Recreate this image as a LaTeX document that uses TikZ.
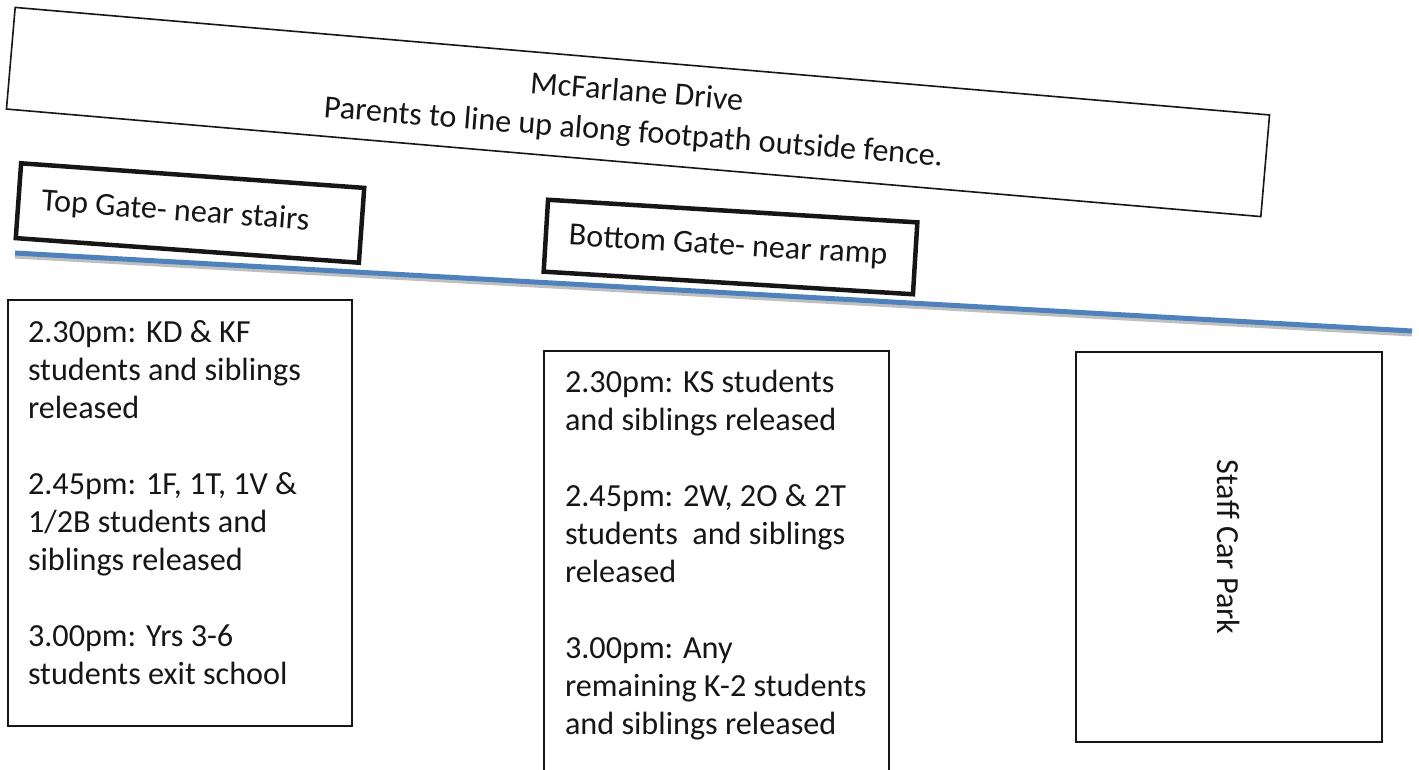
\documentclass[tikz,border=0pt]{standalone}
\usepackage{fontspec}
\setmainfont{Carlito}
\definecolor{fenceblue}{RGB}{79,129,189}
\definecolor{ink}{RGB}{22,22,22}
\begin{document}
\begin{tikzpicture}[x=1pt,y=-1pt,
  bigfont/.style={font=\fontsize{32.2}{38}\selectfont, text=ink},
  txt/.style={bigfont, inner sep=0pt, outer sep=0pt},
  thinbox/.style={draw=ink, line width=1.6pt, inner sep=0pt, outer sep=0pt},
  gatebox/.style={draw=ink, line width=4.5pt, bigfont, inner xsep=23pt, inner ysep=0pt, outer sep=0pt},
]
\clip (0,0) rectangle (1419,769);
\fill[white] (0,0) rectangle (1419,769);

% fence line with shadow
\coordinate (fenceL) at (15,253);
\coordinate (fenceR) at (1412,331);
\coordinate (shadowL) at (15,256.5);
\coordinate (shadowR) at (1412,334.5);
\draw[black!25, line width=4pt] (shadowL) -- (shadowR);
\draw[fenceblue, line width=5pt] (fenceL) -- (fenceR);

% McFarlane Drive box
\node[thinbox, rotate=-4.9, minimum width=1259pt, minimum height=102pt] (drive) at (638,112) {};
\node[txt, anchor=base, rotate=-4.5] (drivetext) at (636,102)
  {\vtop{\baselineskip=40pt
   \hbox to 700pt{\hfil McFarlane Drive\hfil}
   \hbox to 700pt{\hfil Parents to line up along footpath outside fence.\hfil}}};

% gates
\node[gatebox, rotate=-4.1, minimum width=344pt, minimum height=75pt] (topgate) at (190,213)
  {\makebox[298pt][l]{Top Gate- near stairs}};
\node[gatebox, rotate=-3.5, minimum width=370pt, minimum height=72pt] (botgate) at (730.5,247)
  {\makebox[324pt][l]{Bottom Gate- near ramp}};

% lower boxes
\node[thinbox, anchor=north west, minimum width=344pt, minimum height=426pt] (box1) at (8,300) {};
\node[thinbox, anchor=north west, minimum width=345pt, minimum height=460pt] (box2) at (544,351) {};
\node[thinbox, anchor=north west, minimum width=306pt, minimum height=390pt] (box3) at (1076,352) {};

\node[txt, anchor=base west] (text1) at (28,342)
  {\vtop{\hbox{2.30pm: KD \& KF}\hbox{students and siblings}\hbox{released}\vskip38pt
   \hbox{2.45pm: 1F, 1T, 1V \&}\hbox{1/2B students and}\hbox{siblings released}\vskip38pt
   \hbox{3.00pm: Yrs 3-6}\hbox{students exit school}}};

\node[txt, anchor=base west] (text2) at (565,392)
  {\vtop{\hbox{2.30pm: KS students}\hbox{and siblings released}\vskip38pt
   \hbox{2.45pm: 2W, 2O \& 2T}\hbox{students\ \ and siblings}\hbox{released}\vskip38pt
   \hbox{3.00pm: Any}\hbox{remaining K-2 students}\hbox{and siblings released}}};

\node[txt, rotate=-90] (staff) at (box3.center) {Staff Car Park};
\end{tikzpicture}
\end{document}
